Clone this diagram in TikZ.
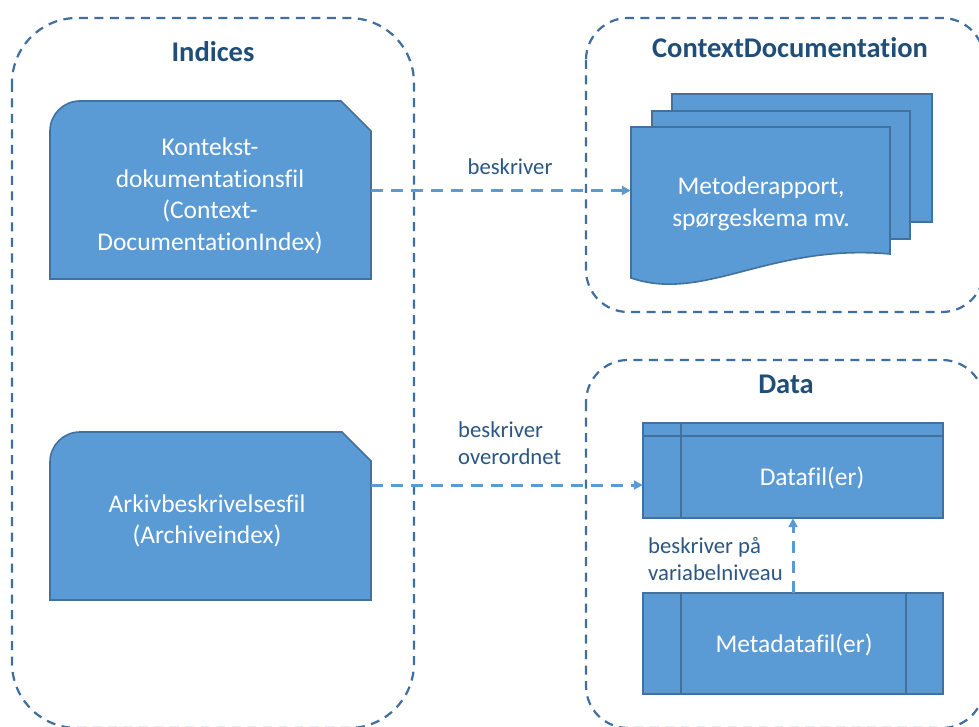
\documentclass[tikz,border=0pt]{standalone}
\usepackage{fontspec}
\setmainfont{Carlito}[Ligatures=NoCommon]
\usetikzlibrary{arrows.meta}
\definecolor{boxfill}{HTML}{5B9BD5}
\definecolor{boxline}{HTML}{41719C}
\definecolor{contline}{HTML}{3F6F9E}
\definecolor{arrowcol}{HTML}{5B9BD5}
\definecolor{titlecol}{HTML}{1F4E79}
\definecolor{labelcol}{HTML}{2A5783}
\tikzset{
  container/.style={draw=contline, line width=2.2pt, dash pattern=on 9pt off 6.5pt},
  shapebox/.style={fill=boxfill, draw=boxline, line width=1.6pt},
  boxtext/.style={text=white, align=center, inner sep=0pt, font=\fontsize{25.5}{31.5}\selectfont},
  titletext/.style={text=titlecol, inner sep=0pt, font=\fontsize{28.5}{34}\selectfont\bfseries},
  labeltext/.style={text=labelcol, align=left, inner sep=0pt, font=\fontsize{22.7}{27}\selectfont},
  flow/.style={draw=arrowcol, line width=3pt, dash pattern=on 12pt off 8pt,
    -{Triangle[length=9pt,width=9pt]}},
  area/.style={draw=none, inner sep=0pt}
}
\begin{document}
\begin{tikzpicture}[x=1pt,y=-1pt]
\useasboundingbox (0,0) rectangle (979,727);
\clip (0,0) rectangle (979,727);
\fill[white] (0,0) rectangle (979,727);

% containers
\draw[container, rounded corners=65pt] (12,18) rectangle (414,728);
\draw[container, rounded corners=42pt] (586,18) rectangle (984,312);
\draw[container, rounded corners=42pt] (586,360) rectangle (984,728);

% titles
\node[titletext] (tidx) at (213,52) {Indices};
\node[titletext] (tcd) at (790,48) {ContextDocumentation};
\node[titletext] (tdata) at (786,384) {Data};

% Kontekst card
\draw[shapebox] (50,279) -- (50,131) .. controls (50,114.4) and (63.4,101) .. (80,101)
  -- (341,101) -- (371,131) -- (371,279) -- cycle;
\node[area, minimum width=321pt, minimum height=178pt] (kfbox) at (210.5,190) {};
\node[boxtext] (kf) at (210,196) {Kontekst-\\dokumentationsfil\\(Context-\\DocumentationIndex)};

% Arkiv card
\draw[shapebox] (50,600) -- (50,462) .. controls (50,445.4) and (63.4,432) .. (80,432)
  -- (342,432) -- (371,461) -- (371,600) -- cycle;
\node[area, minimum width=321pt, minimum height=168pt] (akbox) at (210.5,516) {};
\node[boxtext] (ak) at (207,521) {Arkivbeskrivelsesfil\\(Archiveindex)};

% multidocument
\draw[shapebox] (672,94) rectangle (932,222);
\draw[shapebox] (652,111) rectangle (910,239);
\draw[shapebox] (631,278) -- (631,127) -- (890,127) -- (890,254)
  .. controls (770,243) and (705,303) .. cycle;
\node[area, minimum width=259pt, minimum height=151pt] (docbox) at (760.5,202.5) {};
\node[boxtext] (doc) at (761,204) {Metoderapport,\\spørgeskema mv.};

% Datafil (internal storage)
\draw[shapebox] (643,423) rectangle (943,518);
\draw[boxline, line width=1.6pt] (643,436) -- (943,436);
\draw[boxline, line width=1.6pt] (681,423) -- (681,518);
\node[area, minimum width=300pt, minimum height=95pt] (dfbox) at (793,470.5) {};
\node[boxtext] (df) at (812,478) {Datafil(er)};

% Metadatafil (predefined process)
\draw[shapebox] (643,593) rectangle (943,694);
\draw[boxline, line width=1.6pt] (681,593) -- (681,694);
\draw[boxline, line width=1.6pt] (906,593) -- (906,694);
\node[area, minimum width=300pt, minimum height=101pt] (mdbox) at (793,643.5) {};
\node[boxtext] (md) at (794,645) {Metadatafil(er)};

% connectors
\draw[flow] ([yshift=-0.5pt]kfbox.east) -- ([yshift=-0.5pt]kfbox.east -| docbox.west);
\draw[flow] ([yshift=31pt]akbox.east) -- ([yshift=31pt]akbox.east -| dfbox.west);
\draw[flow] (mdbox.north) -- (dfbox.south);

% labels
\node[labeltext] (l1) at (510,167) {beskriver};
\node[labeltext, anchor=west] (l2) at (458,443.5) {beskriver\\overordnet};
\node[labeltext, anchor=west] (l3) at (648,559) {beskriver på\\variabelniveau};
\end{tikzpicture}
\end{document}
